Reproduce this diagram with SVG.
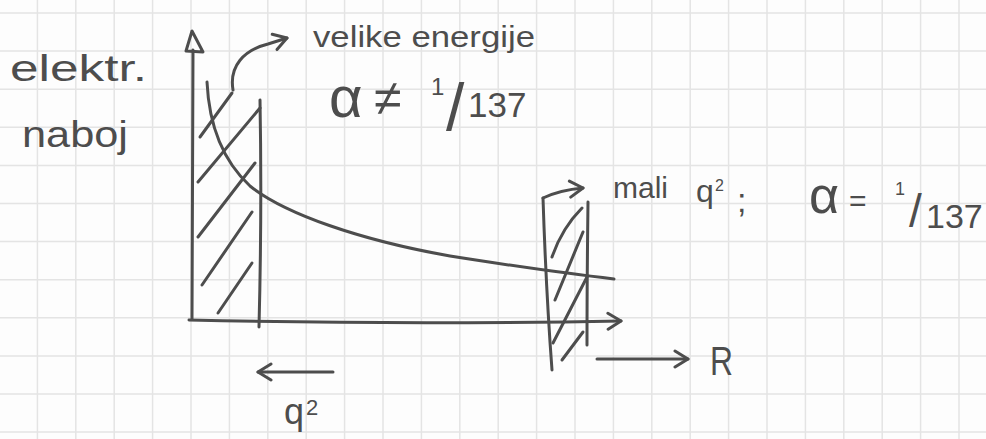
<svg xmlns="http://www.w3.org/2000/svg" width="986" height="439" viewBox="0 0 986 439">
<style>
.ink{fill:none;stroke:#4d4d4d;stroke-width:3;stroke-linecap:round;stroke-linejoin:round}
.t{font-family:"Liberation Sans",Arial,sans-serif;fill:#4d4d4d}
.grid{fill:none;stroke:#e4e4e4;stroke-width:1.5}
</style>
<defs>
<marker id="open" viewBox="0 0 20 20" refX="17" refY="10" markerWidth="20" markerHeight="20" markerUnits="userSpaceOnUse" orient="auto">
<path d="M4,2 L17,10 L4,18" fill="none" stroke="#4d4d4d" stroke-width="3" stroke-linecap="round" stroke-linejoin="round"/>
</marker>
</defs>
<rect width="986" height="439" fill="#fdfdfd"/>
<path class="grid" d="M37.4,0V439M75.8,0V439M114.2,0V439M152.6,0V439M191,0V439M229.4,0V439M267.8,0V439M306.2,0V439M344.6,0V439M383,0V439M421.4,0V439M459.8,0V439M498.2,0V439M536.6,0V439M575,0V439M613.4,0V439M651.8,0V439M690.2,0V439M728.6,0V439M767,0V439M805.4,0V439M843.8,0V439M882.2,0V439M920.6,0V439M959,0V439M0,13H986M0,51.1H986M0,89.2H986M0,127.3H986M0,165.4H986M0,203.5H986M0,241.6H986M0,279.7H986M0,317.8H986M0,355.9H986M0,394H986M0,432.1H986"/>

<g id="axes">
<path class="ink" d="M192,319 L193,50"/>
<polygon class="ink" points="192,31 186,51 203,52"/>
<path class="ink" d="M189,320 Q400,325 621,321" marker-end="url(#open)"/>
</g>

<g id="hatch-left">
<path class="ink" d="M260,100 Q262,210 259,327"/>
<path class="ink" d="M200,137 L232,93"/>
<path class="ink" d="M198,182 L260,108"/>
<path class="ink" d="M198,237 L255,163"/>
<path class="ink" d="M202,285 L252,212"/>
<path class="ink" d="M218,313 L252,263"/>
</g>

<g id="hatch-right">
<path class="ink" d="M543,198 Q546,290 552,370"/>
<path class="ink" d="M588,202 Q587,280 587,345"/>
<path class="ink" d="M552,257 Q562,228 582,208"/>
<path class="ink" d="M555,300 L583,232"/>
<path class="ink" d="M553,343 L587,277"/>
<path class="ink" d="M562,360 L583,332"/>
</g>

<g id="curve">
<path class="ink" d="M207,82 C209,125 222,160 250,186 C285,214 360,240 450,256 C520,267 570,274 614,279"/>
</g>

<g id="connectors">
<path class="ink" d="M233,90 C229,66 244,50 268,44 L287,38" marker-end="url(#open)"/>
<path class="ink" d="M543,198 Q560,190 583,188" marker-end="url(#open)"/>
<path class="ink" d="M333,372 L258,372" marker-end="url(#open)"/>
<path class="ink" d="M597,359 L688,359" marker-end="url(#open)"/>
</g>

<g id="label-naboj">
<text class="t" x="10" y="81" font-size="36" textLength="137" lengthAdjust="spacingAndGlyphs">elektr.</text>
<text class="t" x="22" y="147" font-size="36" textLength="106" lengthAdjust="spacingAndGlyphs">naboj</text>
</g>

<g id="label-velike">
<text class="t" x="313" y="47" font-size="30" textLength="222" lengthAdjust="spacingAndGlyphs">velike energije</text>
<text class="t" y="117"><tspan x="329" font-size="58">α</tspan><tspan x="374" y="115" font-size="50">≠</tspan><tspan x="431" y="95" font-size="24">1</tspan><tspan x="446" y="130" font-size="66">/</tspan><tspan x="468" y="117" font-size="35">137</tspan></text>
</g>

<g id="label-mali">
<text class="t" y="198"><tspan x="613" font-size="30">mali</tspan><tspan x="696" y="202" font-size="32">q</tspan><tspan x="715" y="191" font-size="16">2</tspan><tspan x="737" y="212" font-size="34">;</tspan></text>
<text class="t" y="213"><tspan x="809" font-size="52">α</tspan><tspan x="849" y="211" font-size="30">=</tspan><tspan x="895" y="195" font-size="18">1</tspan><tspan x="909" y="227" font-size="46">/</tspan><tspan x="926" y="228" font-size="34">137</tspan></text>
</g>

<g id="label-R">
<text class="t" x="710" y="375" font-size="40" textLength="23" lengthAdjust="spacingAndGlyphs">R</text>
</g>

<g id="label-q2">
<text class="t" y="424"><tspan x="284" font-size="36">q</tspan><tspan x="306" y="415" font-size="22">2</tspan></text>
</g>
</svg>
